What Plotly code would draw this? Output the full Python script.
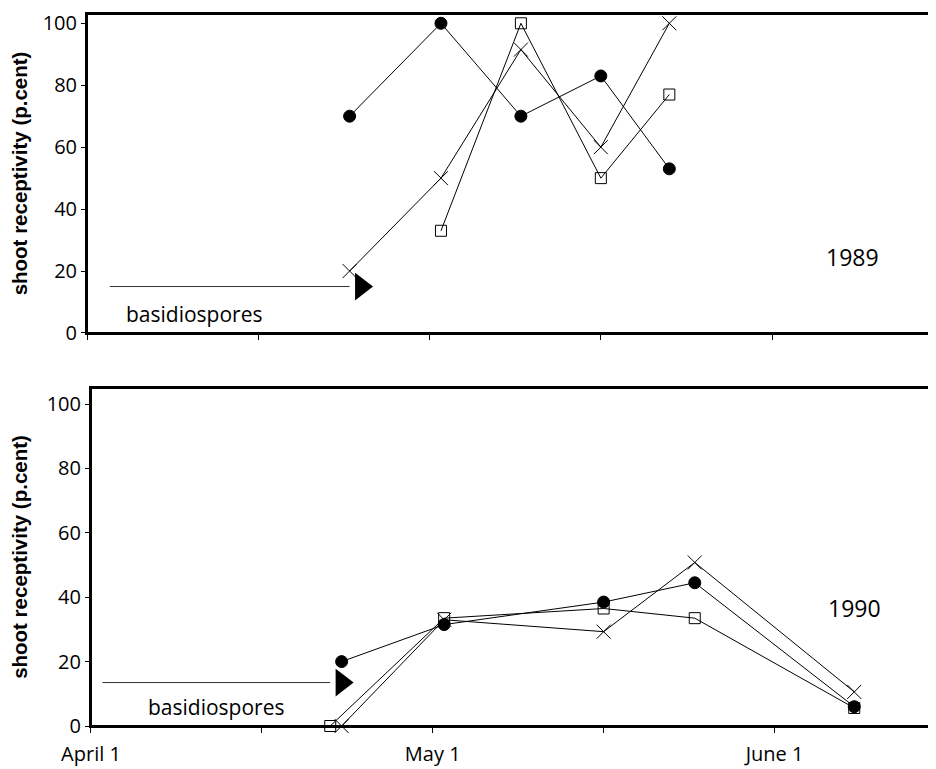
import plotly.graph_objects as go
from plotly.subplots import make_subplots

# ---- data: 1989 ----
dates_circle_89 = ["1989-04-24", "1989-05-02", "1989-05-09", "1989-05-16", "1989-05-22"]
circle_89 = [70, 100, 70, 83, 53]
dates_cross_89 = ["1989-04-24", "1989-05-02", "1989-05-09", "1989-05-16", "1989-05-22"]
cross_89 = [20, 50, 91.5, 60, 100]
dates_square_89 = ["1989-05-02", "1989-05-09", "1989-05-16", "1989-05-22"]
square_89 = [33, 100, 50, 77]

# ---- data: 1990 ----
dates_circle_90 = ["1990-04-23", "1990-05-02", "1990-05-16", "1990-05-24", "1990-06-07"]
circle_90 = [20, 31.5, 38.5, 44.5, 6]
dates_cross_90 = ["1990-04-23", "1990-05-02", "1990-05-16", "1990-05-24", "1990-06-07"]
cross_90 = [0, 33, 29.3, 50.8, 10.6]
dates_square_90 = ["1990-04-22", "1990-05-02", "1990-05-16", "1990-05-24", "1990-06-07"]
square_90 = [0, 33.5, 36.5, 33.5, 5.6]

# ---- axis ticks ----
tick_md = ["04-01", "04-16", "05-01", "05-16", "05-31"]
tick_text = ["April 1", "", "May 1", "", "June 1"]
years = ["1989", "1990"]
y_top = [103, 105]
year_labels = ["1989", "1990"]
year_label_pos = [("1989-06-07", 24.5), ("1990-06-07", 36.8)]

# basidiospores arrow (start date, end date, head date, level)
arrows = [("1989-04-03", "1989-04-24", "1989-04-25", 15),
          ("1990-04-02", "1990-04-22", "1990-04-23", 13.5)]
basidio_pos = [("1989-04-10 08:00", 6), ("1990-04-12", 6)]

FONT = "'Open Sans', Lato, sans-serif"

fig = make_subplots(rows=2, cols=1, shared_xaxes=False)

def add_series(row, dates, vals, symbol, size, color_fill):
    fig.add_trace(go.Scatter(
        x=dates, y=vals, mode="lines+markers",
        line=dict(color="black", width=1),
        marker=dict(symbol=symbol, size=size, color=color_fill,
                    line=dict(color="black", width=1)),
        cliponaxis=False, showlegend=False), row=row, col=1)

# 1989
add_series(1, dates_circle_89, circle_89, "circle", 12, "black")
add_series(1, dates_cross_89, cross_89, "x-thin-open", 14, "black")
add_series(1, dates_square_89, square_89, "square-open", 11, "black")
# 1990
add_series(2, dates_circle_90, circle_90, "circle", 12, "black")
add_series(2, dates_cross_90, cross_90, "x-thin-open", 14, "black")
add_series(2, dates_square_90, square_90, "square-open", 11, "black")

for i, (x0, x1, xh, lvl) in enumerate(arrows):
    row = i + 1
    sfx = "" if row == 1 else str(row)
    fig.add_trace(go.Scatter(x=[x0, x1], y=[lvl, lvl], mode="lines",
                             line=dict(color="#333", width=1),
                             showlegend=False, hoverinfo="skip"), row=row, col=1)
    fig.add_trace(go.Scatter(x=[xh], y=[lvl], mode="markers",
                             marker=dict(symbol="triangle-right", size=24, color="black"),
                             showlegend=False, hoverinfo="skip", cliponaxis=False), row=row, col=1)
    bx, by = basidio_pos[i]
    fig.add_annotation(x=bx, y=by, text="basidiospores", showarrow=False,
                       font=dict(family=FONT, size=21, color="black"),
                       xref=f"x{sfx}", yref=f"y{sfx}")
    yx, yy = year_label_pos[i]
    fig.add_annotation(x=yx, y=yy, text=year_labels[i], showarrow=False,
                       font=dict(family=FONT, size=23, color="black"),
                       xref=f"x{sfx}", yref=f"y{sfx}")
    # panel frame
    fig.add_shape(type="rect", xref=f"x{sfx} domain", yref=f"y{sfx} domain",
                  x0=0, x1=1, y0=0, y1=1, line=dict(color="black", width=2),
                  fillcolor="rgba(0,0,0,0)", layer="above")

for i, yr in enumerate(years):
    row = i + 1
    fig.update_xaxes(
        row=row, col=1, type="date", automargin=False,
        range=[f"{yr}-04-01", f"{yr}-06-14"],
        tickvals=[f"{yr}-{md}" for md in tick_md],
        ticktext=tick_text if row == 2 else [""] * len(tick_md),
        showticklabels=(row == 2),
        ticks="outside", ticklen=5, tickwidth=1, tickcolor="black",
        ticklabelstandoff=4,
        showline=True, linecolor="black", linewidth=2, mirror=True,
        showgrid=False, zeroline=False,
        tickfont=dict(family=FONT, size=20, color="black"))
    fig.update_yaxes(
        row=row, col=1, range=[0, y_top[i]], automargin=False,
        tickvals=[0, 20, 40, 60, 80, 100],
        ticks="outside", ticklen=4, tickwidth=1, tickcolor="black",
        showline=True, linecolor="black", linewidth=2, mirror=True,
        showgrid=False, zeroline=False,
        tickfont=dict(family=FONT, size=20, color="black"),
        title=dict(text="<b>shoot receptivity (p.cent)</b>",
                   font=dict(family="Liberation Sans, Arial, sans-serif", size=20.5, color="black"),
                   standoff=19))

fig.update_layout(
    width=936, height=769,
    margin=dict(l=79, r=10, t=6, b=51),
    plot_bgcolor="white", paper_bgcolor="white",
    xaxis=dict(domain=[0, 0.9976]), xaxis2=dict(domain=[0.0047, 1]),
    yaxis=dict(domain=[0.552, 1]), yaxis2=dict(domain=[0, 0.4747]),
)

fig.write_html("out.html")
